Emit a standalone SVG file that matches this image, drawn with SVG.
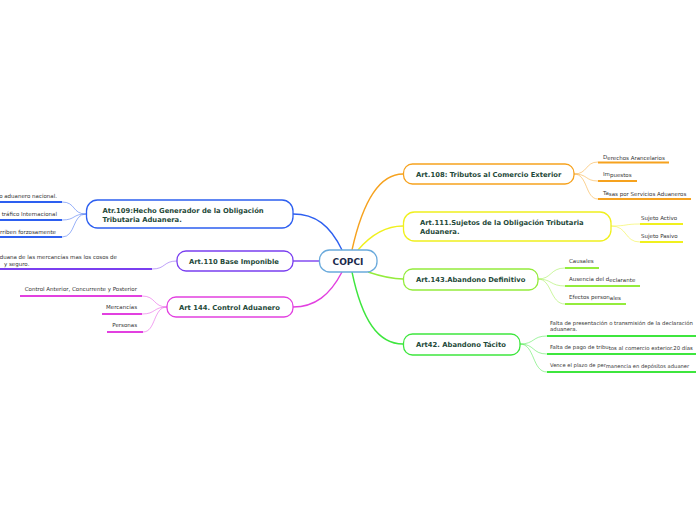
<svg xmlns="http://www.w3.org/2000/svg" width="696" height="520" viewBox="0 0 696 520">
<style>
.node{fill:#ffffff;stroke-width:1.3}
.lbl{font-family:"DejaVu Sans",Verdana,sans-serif;font-weight:bold;font-size:6.8px;fill:#1f4a3a}
.leaf{font-family:"DejaVu Sans",Verdana,sans-serif;font-size:5.5px;fill:#333333}
.main{fill:none;stroke-width:1.4}
.sub{fill:none;stroke-width:0.9;stroke-opacity:0.55}
.ul{stroke-width:2}
.or{stroke:#f6a21e}.ye{stroke:#f0f01e}.lg{stroke:#94ec3c}.gr{stroke:#3ee63e}
.bl{stroke:#2d5ff0}.pu{stroke:#7a3ff0}.ma{stroke:#e240e0}
</style>
<rect width="696" height="520" fill="#ffffff"/>
<g id="connectors">
<path class="main or" d="M352,250 C362,205 378,174 403,174"/>
<path class="main ye" d="M358,250 C370,236 385,226 403,226"/>
<path class="main lg" d="M368,272 C380,276 390,279 403,279"/>
<path class="main gr" d="M352,272 C362,320 378,344 403,344"/>
<path class="main bl" d="M342,250 C330,225 315,214 293,214"/>
<path class="main pu" d="M319,261 L293,261"/>
<path class="main ma" d="M342,272 C330,295 315,307 293,307"/>
<path class="sub or" d="M574,174 C588,174 585,162 598,162 M574,174 C588,174 585,181 598,181 M574,174 C588,174 585,199 598,199"/>
<path class="sub ye" d="M611,226 C628,226 624,224 640,224 M611,226 C628,226 624,242 640,242"/>
<path class="sub lg" d="M538,279 C552,279 550,268 565,268 M538,279 C552,279 550,286 565,286 M538,279 C552,279 550,304 565,304"/>
<path class="sub gr" d="M520,344 C535,344 532,336 547,336 M520,344 C535,344 532,354 547,354 M520,344 C535,344 532,372 547,372"/>
<path class="sub bl" d="M86,214 C72,214 76,202 62,202 M86,214 C72,214 76,220 62,220 M86,214 C72,214 76,237 62,237"/>
<path class="sub pu" d="M177,261 C163,261 166,269 152,269"/>
<path class="sub ma" d="M167,307 C153,307 156,296 142,296 M167,307 C153,307 156,314 142,314 M167,307 C153,307 156,332 143,332"/>
<line class="ul or" x1="598" y1="162.5" x2="669" y2="162.5"/>
<line class="ul or" x1="598" y1="181" x2="637" y2="181"/>
<line class="ul or" x1="598" y1="199" x2="691" y2="199"/>
<line class="ul ye" x1="640" y1="224" x2="683" y2="224"/>
<line class="ul ye" x1="640" y1="242" x2="683" y2="242"/>
<line class="ul lg" x1="565" y1="268" x2="599" y2="268"/>
<line class="ul lg" x1="565" y1="286" x2="640" y2="286"/>
<line class="ul lg" x1="565" y1="304" x2="626" y2="304"/>
<line class="ul gr" x1="547" y1="336" x2="696" y2="336"/>
<line class="ul gr" x1="547" y1="354" x2="696" y2="354"/>
<line class="ul gr" x1="547" y1="372" x2="696" y2="372"/>
<line class="ul bl" x1="0" y1="202" x2="62" y2="202"/>
<line class="ul bl" x1="0" y1="220" x2="62" y2="220"/>
<line class="ul bl" x1="0" y1="237" x2="62" y2="237"/>
<line class="ul pu" x1="0" y1="269" x2="152" y2="269"/>
<line class="ul ma" x1="20" y1="296" x2="142" y2="296"/>
<line class="ul ma" x1="102" y1="314" x2="142" y2="314"/>
<line class="ul ma" x1="107" y1="332" x2="143" y2="332"/>
</g>
<g id="copci">
<rect class="node" x="319.5" y="250" width="57.5" height="22" rx="10" stroke="#6aaadc"/>
<text x="348" y="264.5" text-anchor="middle" style="font-family:'DejaVu Sans',Verdana,sans-serif;font-weight:bold;font-size:9px;fill:#1c2b4c">COPCI</text>
</g>
<g id="art108">
<rect class="node or" x="403.5" y="164" width="170.5" height="20" rx="9"/>
<text class="lbl" x="416" y="176.5">Art.108: Tributos al Comercio Exterior</text>
</g>
<g id="art111">
<rect class="node ye" x="403.5" y="212" width="207.5" height="29" rx="11"/>
<text class="lbl" x="420" y="225">Art.111.Sujetos de la Obligación Tributaria</text>
<text class="lbl" x="420" y="234">Aduanera.</text>
</g>
<g id="art143">
<rect class="node lg" x="403.5" y="269" width="134.5" height="21" rx="9"/>
<text class="lbl" x="416" y="282">Art.143.Abandono Definitivo</text>
</g>
<g id="art42">
<rect class="node gr" x="403.5" y="334" width="116.5" height="21" rx="9"/>
<text class="lbl" x="416" y="347">Art42. Abandono Tácito</text>
</g>
<g id="atr109">
<rect class="node bl" x="86.5" y="200" width="206.5" height="28" rx="11"/>
<text class="lbl" x="102.5" y="213">Atr.109:Hecho Generador de la Obligación</text>
<text class="lbl" x="102.5" y="221.5">Tributaria Aduanera.</text>
</g>
<g id="art110">
<rect class="node pu" x="177" y="251" width="116" height="20" rx="9"/>
<text class="lbl" x="189" y="264">Art.110 Base Imponible</text>
</g>
<g id="art144">
<rect class="node ma" x="167" y="297" width="126" height="20" rx="9"/>
<text class="lbl" x="179" y="310">Art 144. Control Aduanero</text>
</g>
<g id="leaves-108">
<text class="leaf" x="603" y="159">D<tspan dy="1">erechos Arancelarios</tspan></text>
<text class="leaf" x="603" y="176">Im<tspan dy="1">puestos</tspan></text>
<text class="leaf" x="603" y="194.5">Ta<tspan dy="1">sas por Servicios Aduaneros</tspan></text>
</g>
<g id="leaves-111">
<text class="leaf" x="641" y="219.5">Sujeto Activo</text>
<text class="leaf" x="641" y="237.5">Sujeto Pasivo</text>
</g>
<g id="leaves-143">
<text class="leaf" x="569" y="263">Causales</text>
<text class="leaf" x="569" y="281">Ausencia del d<tspan dy="1">eclarante</tspan></text>
<text class="leaf" x="569" y="299">Efectos person<tspan dy="1">ales</tspan></text>
</g>
<g id="leaves-42">
<text class="leaf" x="550" y="324.5" style="font-size:5.35px">Falta de presentación o transmisión de la declaración</text>
<text class="leaf" x="550" y="331" style="font-size:5.35px">aduanera.</text>
<text class="leaf" x="550" y="349" style="font-size:5.35px">Falta de pago de tribu<tspan dy="0.8">tos al comercio exterior.20 días</tspan></text>
<text class="leaf" x="550" y="367" style="font-size:5.2px">Vence el plazo de per<tspan dy="0.8">manencia en depósitos aduaner</tspan></text>
</g>
<g id="leaves-109">
<text class="leaf" x="57" y="198" text-anchor="end">o aduanero nacional.</text>
<text class="leaf" x="57" y="216" text-anchor="end">tráfico Internacional</text>
<text class="leaf" x="56" y="233.5" text-anchor="end">rriben forzosamente</text>
</g>
<g id="leaves-110">
<text class="leaf" x="117" y="259" text-anchor="end">duana de las mercancías mas los cosos de</text>
<text class="leaf" x="4" y="266">y seguro.</text>
</g>
<g id="leaves-144">
<text class="leaf" x="137" y="290.5" text-anchor="end">Control Anterior, Concurrente y Posterior</text>
<text class="leaf" x="137" y="309" text-anchor="end">Mercancías</text>
<text class="leaf" x="137" y="327" text-anchor="end">Personas</text>
</g>
</svg>
